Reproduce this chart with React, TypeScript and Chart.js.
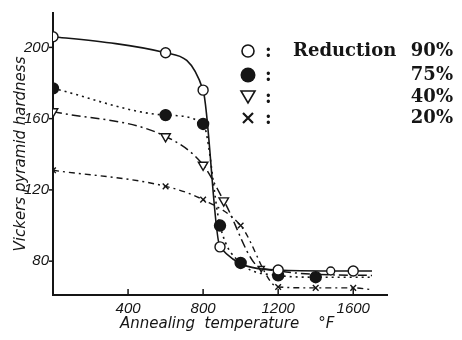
import { useEffect, useRef } from "react";
import { Chart, registerables } from "chart.js";
Chart.register(...registerables);

// ---- data ----
const xTickValues = [400, 800, 1200, 1600];
const yTickValues = [80, 120, 160, 200];

const temp90 = [0, 600, 800, 890, 1200, 1480, 1600, 1700];
const hard90 = [206, 197, 176, 88, 75, 74.5, 74.5, 74.5];
const mark90 = [5, 5, 5, 5, 5, 4, 5, 0];

const temp75 = [0, 600, 800, 890, 1000, 1200, 1400, 1700];
const hard75 = [177, 162, 157, 100, 79, 72, 71, 71];
const mark75 = [5.5, 5.5, 5.5, 5.5, 5.5, 5.5, 5.5, 0];

const temp40 = [0, 600, 800, 910, 1110, 1700];
const hard40 = [164, 150, 134, 114, 76, 72];
const mark40 = [5.5, 5.5, 5.5, 5.5, 3.5, 0];

const temp20 = [0, 600, 800, 1000, 1200, 1400, 1600, 1700];
const hard20 = [131, 122, 114.5, 100, 65.5, 65, 65, 64];
const mark20 = [4, 4, 4, 4, 4, 4, 4, 0];

const legendSymbols = ["circle", "disc", "triangle", "cross"];
const legendPercents = ["90%", "75%", "40%", "20%"];
const legendWord = "Reduction";

const xTitle = "\u00a0\u00a0\u00a0Annealing  temperature    °F";
const yTitle = "Vickers pyramid hardness";

const INK = "#151515";

const tickPlugin = {
  id: "inwardTicks",
  afterDraw(chart: any) {
    const { ctx } = chart;
    const xs = chart.scales.x;
    const ys = chart.scales.y;
    ctx.save();
    ctx.strokeStyle = INK;
    ctx.lineWidth = 1.5;
    xs.ticks.forEach((t: any) => {
      const px = xs.getPixelForValue(t.value);
      ctx.beginPath();
      ctx.moveTo(px, xs.top);
      ctx.lineTo(px, xs.top - 6);
      ctx.stroke();
    });
    ys.ticks.forEach((t: any) => {
      const py = ys.getPixelForValue(t.value);
      ctx.beginPath();
      ctx.moveTo(ys.right - 4, py);
      ctx.lineTo(ys.right, py);
      ctx.stroke();
    });
    ctx.restore();
  },
};

const legendPlugin = {
  id: "customLegend",
  afterDraw(chart: any) {
    const { ctx } = chart;
    const rowsY = [51, 75, 97, 118];
    const symX = 248;
    ctx.save();
    ctx.fillStyle = INK;
    ctx.strokeStyle = INK;
    rowsY.forEach((y, i) => {
      const s = legendSymbols[i];
      ctx.lineWidth = 1.6;
      ctx.beginPath();
      if (s === "circle") {
        ctx.arc(symX, y, 6, 0, Math.PI * 2);
        ctx.stroke();
      } else if (s === "disc") {
        ctx.arc(symX, y, 7.5, 0, Math.PI * 2);
        ctx.fill();
      } else if (s === "triangle") {
        ctx.moveTo(symX - 7, y - 6);
        ctx.lineTo(symX + 7, y - 6);
        ctx.lineTo(symX, y + 6);
        ctx.closePath();
        ctx.stroke();
      } else {
        ctx.lineWidth = 2.2;
        ctx.moveTo(symX - 5, y - 5);
        ctx.lineTo(symX + 5, y + 5);
        ctx.moveTo(symX + 5, y - 5);
        ctx.lineTo(symX - 5, y + 5);
        ctx.stroke();
      }
      ctx.font = "bold 18px 'DejaVu Serif'";
      ctx.textBaseline = "middle";
      ctx.textAlign = "left";
      ctx.fillText(":", 265, y + 1);
      ctx.textAlign = "right";
      ctx.fillText(legendPercents[i], 453, y);
      if (i === 0) {
        ctx.textAlign = "left";
        ctx.fillText(legendWord, 293, y);
      }
    });
    ctx.restore();
  },
};

function makeSet(xs: number[], ys: number[], radii: number[], style: string, rot: number, fill: string, dash: number[], width: number) {
  return {
    data: xs.map((x, i) => ({ x, y: ys[i] })),
    borderColor: INK,
    borderWidth: width,
    borderDash: dash,
    pointStyle: style,
    rotation: rot,
    pointRadius: radii,
    pointBorderColor: INK,
    pointBackgroundColor: fill,
    pointBorderWidth: 1.4,
    cubicInterpolationMode: "monotone",
    fill: false,
  };
}

export default function App() {
  const ref = useRef<HTMLCanvasElement | null>(null);
  useEffect(() => {
    if (!ref.current) return;
    const tickFont = { family: "'Liberation Sans', Arial, sans-serif", size: 15, style: "italic" as const };
    const titleFont = { family: "'DejaVu Sans'", size: 15, style: "italic" as const };
    const chart = new Chart(ref.current, {
      type: "line",
      data: {
        datasets: [
          makeSet(temp90, hard90, mark90, "circle", 0, "#ffffff", [], 1.6),
          makeSet(temp75, hard75, mark75, "circle", 0, INK, [2, 4], 1.6),
          makeSet(temp40, hard40, mark40, "triangle", 180, "#ffffff", [9, 4, 2, 4], 1.5),
          makeSet(temp20, hard20, mark20, "crossRot", 0, INK, [6, 4, 2, 4], 1.4),
        ] as any,
      },
      options: {
        animation: false,
        responsive: false,
        layout: { padding: { top: 5, right: 75, bottom: 0, left: 0 } },
        plugins: { legend: { display: false }, tooltip: { enabled: false } },
        scales: {
          x: {
            type: "linear",
            min: 0,
            max: 1780,
            grid: { display: false, drawTicks: false },
            border: { display: true, color: INK, width: 2 },
            afterBuildTicks: (s: any) => {
              s.ticks = xTickValues.map((v) => ({ value: v }));
            },
            afterFit: (s: any) => {
              s.height = 45;
            },
            ticks: {
              color: INK,
              font: tickFont,
              padding: 5,
              autoSkip: false,
              maxRotation: 0,
              callback: (v: any) => String(v),
            },
            title: { display: true, text: xTitle, color: INK, font: titleFont, padding: { top: 0, bottom: 7 } },
          },
          y: {
            type: "linear",
            min: 61,
            max: 219.3,
            grid: { display: false, drawTicks: false },
            border: { display: true, color: INK, width: 2 },
            afterBuildTicks: (s: any) => {
              s.ticks = yTickValues.map((v) => ({ value: v }));
            },
            afterFit: (s: any) => {
              s.width = 53;
            },
            ticks: { color: INK, font: tickFont, padding: 4, autoSkip: false, callback: (v: any) => String(v) },
            title: { display: true, text: yTitle, color: INK, font: titleFont, padding: { top: 12, bottom: 0 } },
          },
        },
      },
      plugins: [tickPlugin, legendPlugin],
    });
    return () => chart.destroy();
  }, []);
  return (
    <canvas
      ref={ref}
      width={462}
      height={340}
      style={{ position: "absolute", left: 0, top: 0, width: 462, height: 340, background: "#fff" }}
    />
  );
}
